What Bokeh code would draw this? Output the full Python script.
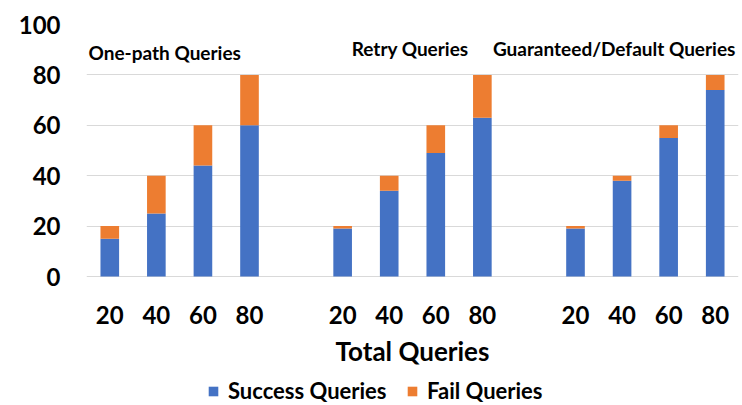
from bokeh.plotting import figure
from bokeh.models import (ColumnDataSource, FixedTicker, Label, Legend, LegendItem)
from bokeh.core.properties import value
from bokeh.embed import file_html
from bokeh.resources import INLINE

# ---- data ----
groups = ["One-path Queries", "Retry Queries", "Guaranteed/Default Queries"]
total_queries = [20, 40, 60, 80]
success_onepath = [15, 25, 44, 60]
success_retry = [19, 34, 49, 63]
success_guaranteed = [19, 38, 55, 74]
y_ticks = [0, 20, 40, 60, 80, 100]

BLUE = "#4472C4"
ORANGE = "#ED7D31"
FONT = "Lato"

success_all = [success_onepath, success_retry, success_guaranteed]
xs, succ, fail, labels = [], [], [], []
for g, s_list in enumerate(success_all):
    for i, (t, s) in enumerate(zip(total_queries, s_list)):
        xs.append(g * 5 + i)
        succ.append(s)
        fail.append(t - s)
        labels.append(str(t))

src = ColumnDataSource(dict(x=xs, success=succ, fail=fail, label=labels))

# frame spans down to the bottom so the category labels, axis title and
# legend live inside it (below zero); gridlines only at 0..100
p = figure(width=742, height=405, output_backend="svg", toolbar_location=None,
           x_range=(-0.5, 13.5), y_range=(-51.19, 100),
           x_axis_location=None,
           min_border_left=86, min_border_right=4, min_border_top=24,
           min_border_bottom=0)
p.outline_line_color = None
p.background_fill_color = "white"

rs = p.vbar_stack(["success", "fail"], x="x", width=0.4, source=src,
                  color=[BLUE, ORANGE], line_color=None)

# y axis
p.yaxis.ticker = FixedTicker(ticks=y_ticks)
ax = p.yaxis[0]
ax.axis_line_color = None
ax.major_tick_line_color = None
ax.minor_tick_line_color = None
ax.major_tick_out = 0
ax.major_tick_in = 0
ax.major_label_text_font = FONT
ax.major_label_text_font_style = "bold"
ax.major_label_text_font_size = "24px"
ax.major_label_text_color = "black"
ax.major_label_standoff = 26

p.xgrid.grid_line_color = None
p.ygrid.grid_line_color = "#d9d9d9"
p.ygrid.grid_line_width = 1

# category labels (x tick labels) under each bar
p.text(x="x", y=-15.3, text="label", source=src, text_align="center",
       text_baseline="middle", text_font=value(FONT),
       text_font_style="bold", text_font_size="24px", text_color="black")

# x axis title
p.add_layout(Label(x=6.5, y=-29.6, text="Total Queries", text_align="center",
                   text_baseline="middle", text_font=FONT,
                   text_font_style="bold", text_font_size="26px",
                   text_color="black"))

# group titles
title_pos = [(1.18, 88.9), (6.45, 90.5), (10.83, 90.5)]
for name, (tx, ty) in zip(groups, title_pos):
    p.add_layout(Label(x=tx, y=ty, text=name, text_align="center",
                       text_baseline="middle", text_font=FONT,
                       text_font_style="bold", text_font_size="19px",
                       text_color="black"))

legend = Legend(items=[LegendItem(label="Success Queries", renderers=[rs[0]]),
                       LegendItem(label="Fail Queries", renderers=[rs[1]])],
                orientation="horizontal", location=(121, 1),
                glyph_width=12, glyph_height=12, label_standoff=9, spacing=0,
                label_width=178,
                padding=0, margin=0, border_line_color=None,
                background_fill_alpha=0,
                label_text_font=FONT, label_text_font_style="bold",
                label_text_font_size="22px", label_text_color="black")
p.add_layout(legend)

open("out.html", "w").write(file_html(p, INLINE))
